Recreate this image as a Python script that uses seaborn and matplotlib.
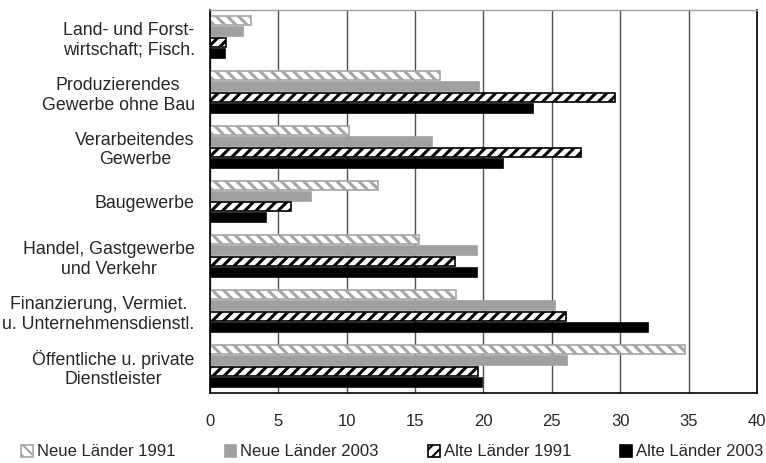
import numpy as np
import pandas as pd
import seaborn as sns
import matplotlib.pyplot as plt
from matplotlib.patches import Patch

# Anteile je Wirtschaftsbereich (in %)
bereiche = ["Land- und Forst-\nwirtschaft; Fisch.",
            "Produzierendes\nGewerbe ohne Bau",
            "Verarbeitendes\nGewerbe",
            "Baugewerbe",
            "Handel, Gastgewerbe\nund Verkehr",
            "Finanzierung, Vermiet.\nu. Unternehmensdienstl.",
            "Öffentliche u. private\nDienstleister"]
serien = ["Neue Länder 1991", "Neue Länder 2003", "Alte Länder 1991", "Alte Länder 2003"]
neue_1991 = [3.0, 16.8, 10.2, 12.3, 15.3, 18.0, 34.7]
neue_2003 = [2.4, 19.7, 16.2, 7.4, 19.5, 25.2, 26.1]
alte_1991 = [1.2, 29.6, 27.1, 5.9, 17.9, 26.0, 19.6]
alte_2003 = [1.1, 23.6, 21.4, 4.1, 19.5, 32.0, 19.9]
xticks = [0, 5, 10, 15, 20, 25, 30, 35, 40]

df = pd.DataFrame({"Bereich": bereiche * 4,
                   "Serie": np.repeat(serien, len(bereiche)),
                   "Wert": neue_1991 + neue_2003 + alte_1991 + alte_2003})

sns.set_style("white")
plt.rcParams["font.family"] = ["Liberation Sans", "DejaVu Sans"]
plt.rcParams["hatch.linewidth"] = 2.2

# fill, edge, hatch
stile = [("white", "#a6a6a6", "\\\\\\"),
         ("#a0a0a0", "#a0a0a0", None),
         ("white", "black", "///"),
         ("black", "black", None)]

fig = plt.figure(figsize=(7.66, 4.63), dpi=100)
ax = fig.add_axes([210 / 766, 1 - 393 / 463, 547 / 766, 383 / 463])
ax.set_axisbelow(True)
ax.xaxis.grid(True, color="#505050", linewidth=1)

sns.barplot(data=df, x="Wert", y="Bereich", hue="Serie", orient="h",
            width=0.8, gap=0.18, ax=ax, legend=False)

for cont, (fc, ec, h) in zip(ax.containers, stile):
    for bar in cont:
        bar.set_facecolor(fc)
        bar.set_edgecolor(ec)
        bar.set_linewidth(1.2)
        if h:
            bar.set_hatch(h)

ax.set_xlim(0, 40)
ax.set_xticks(xticks)
ax.set_ylim(len(bereiche) - 0.5, -0.5)
ax.set_xlabel("")
ax.set_ylabel("")
ax.tick_params(axis="x", length=0, pad=15, labelsize=12)
ax.tick_params(axis="y", which="major", length=0, pad=11, labelsize=12.8)
ax.set_yticks(np.arange(-0.5, len(bereiche), 1), minor=True)
ax.tick_params(axis="y", which="minor", length=6, direction="out", color="black")
for lab in ax.get_yticklabels():
    lab.set_multialignment("center")

for s in ["left", "bottom", "right"]:
    ax.spines[s].set_color("black")
    ax.spines[s].set_linewidth(1.2)
ax.spines["top"].set_color("#a0a0a0")
ax.spines["top"].set_linewidth(1.0)

handles = [Patch(facecolor=fc, edgecolor=ec, hatch=h, linewidth=1.2)
           for fc, ec, h in stile]
plt.rcParams["hatch.linewidth"] = 1.5
fig.legend(handles, serien, loc="center left", ncol=4,
           bbox_to_anchor=(21 / 766, 1 - 452 / 463), frameon=False,
           fontsize=12, handlelength=0.7, handleheight=0.7,
           handletextpad=0.25, columnspacing=2.95, borderpad=0, borderaxespad=0)

fig.savefig("out.png", dpi=100)
